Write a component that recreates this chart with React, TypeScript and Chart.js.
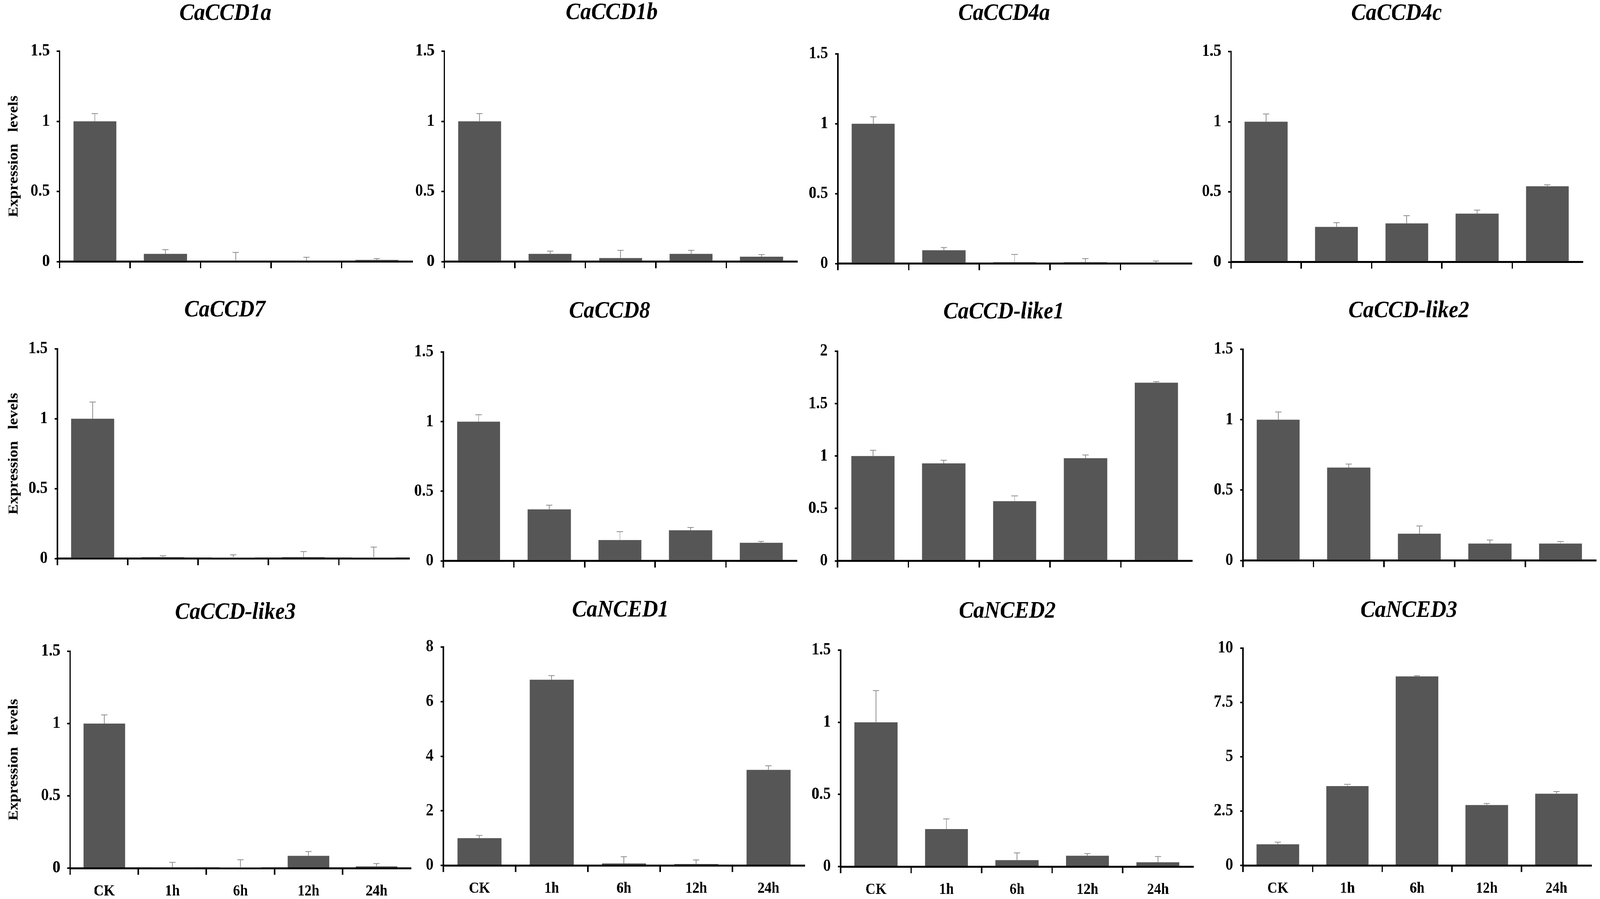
import React, { useEffect, useRef } from 'react';
import { Chart, registerables } from 'chart.js';

Chart.register(...registerables);

// ---------------- DATA ----------------
const timePoints = ['CK', '1h', '6h', '12h', '24h'];

const geneNames = [
  'CaCCD1a', 'CaCCD1b', 'CaCCD4a', 'CaCCD4c',
  'CaCCD7', 'CaCCD8', 'CaCCD-like1', 'CaCCD-like2',
  'CaCCD-like3', 'CaNCED1', 'CaNCED2', 'CaNCED3',
];

const ccd1aMean = [1.0, 0.055, 0.006, 0.006, 0.012];
const ccd1aErr = [0.055, 0.03, 0.06, 0.025, 0.01];
const ccd1bMean = [1.0, 0.055, 0.025, 0.055, 0.035];
const ccd1bErr = [0.055, 0.02, 0.055, 0.025, 0.015];
const ccd4aMean = [1.0, 0.095, 0.01, 0.01, 0.006];
const ccd4aErr = [0.05, 0.02, 0.055, 0.025, 0.012];
const ccd4cMean = [1.0, 0.25, 0.275, 0.345, 0.54];
const ccd4cErr = [0.055, 0.03, 0.055, 0.025, 0.01];
const ccd7Mean = [1.0, 0.01, 0.002, 0.01, 0.002];
const ccd7Err = [0.12, 0.01, 0.025, 0.04, 0.08];
const ccd8Mean = [1.0, 0.37, 0.15, 0.22, 0.13];
const ccd8Err = [0.05, 0.03, 0.06, 0.02, 0.01];
const ccdLike1Mean = [1.0, 0.93, 0.57, 0.98, 1.7];
const ccdLike1Err = [0.055, 0.03, 0.05, 0.03, 0.01];
const ccdLike2Mean = [1.0, 0.66, 0.19, 0.12, 0.12];
const ccdLike2Err = [0.055, 0.025, 0.055, 0.025, 0.015];
const ccdLike3Mean = [1.0, 0.005, 0.003, 0.085, 0.012];
const ccdLike3Err = [0.06, 0.035, 0.055, 0.03, 0.02];
const nced1Mean = [1.0, 6.8, 0.07, 0.05, 3.5];
const nced1Err = [0.1, 0.15, 0.25, 0.15, 0.15];
const nced2Mean = [1.0, 0.26, 0.045, 0.075, 0.03];
const nced2Err = [0.22, 0.07, 0.05, 0.015, 0.04];
const nced3Mean = [0.97, 3.65, 8.7, 2.78, 3.3];
const nced3Err = [0.1, 0.08, 0.03, 0.07, 0.1];

const yAxisMax = [1.5, 1.5, 1.5, 1.5, 1.5, 1.5, 2, 1.5, 1.5, 8, 1.5, 10];
const yAxisStep = [0.5, 0.5, 0.5, 0.5, 0.5, 0.5, 0.5, 0.5, 0.5, 2, 0.5, 2.5];
const yAxisTitle = 'Expression   levels';

const meanSeries = [
  ccd1aMean, ccd1bMean, ccd4aMean, ccd4cMean,
  ccd7Mean, ccd8Mean, ccdLike1Mean, ccdLike2Mean,
  ccdLike3Mean, nced1Mean, nced2Mean, nced3Mean,
];
const errSeries = [
  ccd1aErr, ccd1bErr, ccd4aErr, ccd4cErr,
  ccd7Err, ccd8Err, ccdLike1Err, ccdLike2Err,
  ccdLike3Err, nced1Err, nced2Err, nced3Err,
];

// ---------------- LAYOUT (design pixels, 4562 x 2301) ----------------
const DESIGN_W = 4562;
const DESIGN_H = 2301;
const rowTops = [0, 745, 1520];
const panelBoxes = [
  { l: 170, r: 1175, t: 131, b: 686, tx: 643, ty: 51, row: 0, col: 0 },
  { l: 1267, r: 2272, t: 131, b: 686, tx: 1744, ty: 49, row: 0, col: 1 },
  { l: 2389, r: 3397, t: 138, b: 691, tx: 2863, ty: 51, row: 0, col: 2 },
  { l: 3510, r: 4512, t: 132, b: 687, tx: 3982, ty: 51, row: 0, col: 3 },
  { l: 164, r: 1166, t: 893, b: 1446, tx: 641, ty: 810, row: 1, col: 0 },
  { l: 1264, r: 2271, t: 901, b: 1452, tx: 1738, ty: 813, row: 1, col: 1 },
  { l: 2388, r: 3398, t: 899, b: 1452, tx: 2862, ty: 815, row: 1, col: 2 },
  { l: 3544, r: 4550, t: 894, b: 1451, tx: 4017, ty: 812, row: 1, col: 3 },
  { l: 200, r: 1171, t: 1667, b: 2222, tx: 671, ty: 1584, row: 2, col: 0 },
  { l: 1264, r: 2294, t: 1656, b: 2215, tx: 1769, ty: 1578, row: 2, col: 1 },
  { l: 2397, r: 3402, t: 1664, b: 2218, tx: 2872, ty: 1581, row: 2, col: 2 },
  { l: 3544, r: 4537, t: 1659, b: 2215, tx: 4017, ty: 1579, row: 2, col: 3 },
];

const FONT = '"Liberation Serif", "Times New Roman", serif';
const BAR_COLOR = '#565656';
const ERR_COLOR = '#8c8c8c';

const errorBarPlugin = {
  id: 'errorBars',
  afterDatasetsDraw(chart: any, _args: any, opts: any) {
    const errs = opts.errors || [];
    const meta = chart.getDatasetMeta(0);
    const yScale = chart.scales.y;
    const values = chart.data.datasets[0].data as number[];
    const ctx = chart.ctx;
    ctx.save();
    ctx.strokeStyle = ERR_COLOR;
    ctx.lineWidth = 2;
    meta.data.forEach((bar: any, i: number) => {
      const v = values[i];
      const e = errs[i] || 0;
      const top = yScale.getPixelForValue(v);
      const end = yScale.getPixelForValue(v + e);
      ctx.beginPath();
      ctx.moveTo(bar.x, top);
      ctx.lineTo(bar.x, end);
      ctx.moveTo(bar.x - 9, end);
      ctx.lineTo(bar.x + 9, end);
      ctx.stroke();
    });
    ctx.restore();
  },
};

const panelTitlePlugin = {
  id: 'panelTitle',
  afterDraw(chart: any, _args: any, opts: any) {
    const ctx = chart.ctx;
    ctx.save();
    ctx.font = `italic bold 62px ${FONT}`;
    ctx.fillStyle = '#000';
    ctx.textAlign = 'center';
    ctx.textBaseline = 'alphabetic';
    ctx.fillText(opts.text, opts.x, opts.y);
    ctx.restore();
  },
};

function Panel({ idx }: { idx: number }) {
  const ref = useRef<HTMLCanvasElement>(null);
  const box = panelBoxes[idx];
  const T = rowTops[box.row];
  const firstCol = box.col === 0;
  const bottomRow = box.row === 2;
  const YW = firstCol ? box.l : 130;
  const L = box.l - YW;
  const XH = bottomRow ? 100 : 30;
  const PR = 10;
  const W = Math.min(box.r + PR, DESIGN_W) - L;
  const H = box.b + XH - T;

  useEffect(() => {
    if (!ref.current) return;
    const chart = new Chart(ref.current, {
      type: 'bar',
      data: {
        labels: timePoints,
        datasets: [
          {
            data: meanSeries[idx],
            backgroundColor: BAR_COLOR,
            borderWidth: 0,
            barPercentage: 0.61,
            categoryPercentage: 1,
          },
        ],
      },
      plugins: [errorBarPlugin, panelTitlePlugin],
      options: {
        animation: false,
        responsive: false,
        maintainAspectRatio: false,
        devicePixelRatio: 1,
        layout: { padding: { top: box.t - T, right: L + W - box.r, bottom: 0, left: 0 } },
        plugins: {
          legend: { display: false },
          tooltip: { enabled: false },
          title: { display: false },
          errorBars: { errors: errSeries[idx] },
          panelTitle: { text: geneNames[idx], x: box.tx - L, y: box.ty - T },
        } as any,
        scales: {
          x: {
            type: 'category',
            z: 1,
            afterFit: (s: any) => { s.height = XH; },
            border: { display: true, color: '#000', width: 5 },
            grid: {
              offset: true,
              drawOnChartArea: false,
              drawTicks: true,
              tickLength: 17,
              lineWidth: 4,
              color: (c: any) => (c.index === undefined ? 'rgba(0,0,0,0)' : '#000'),
            },
            ticks: {
              display: bottomRow,
              color: '#000',
              padding: 19,
              maxRotation: 0,
              autoSkip: false,
              font: { family: FONT, weight: 'bold', size: 40 },
            },
          },
          y: {
            type: 'linear',
            min: 0,
            max: yAxisMax[idx],
            afterFit: (s: any) => { s.width = YW; },
            border: { display: true, color: '#000', width: 4 },
            grid: {
              drawOnChartArea: false,
              drawTicks: true,
              tickLength: 8,
              lineWidth: 4,
              color: '#000',
            },
            ticks: {
              stepSize: yAxisStep[idx],
              color: '#000',
              padding: 20,
              font: { family: FONT, weight: 'bold', size: 44 },
              callback: (v: any) => String(v),
            },
            title: {
              display: firstCol,
              text: yAxisTitle,
              color: '#000',
              padding: { top: 16, bottom: 0 },
              font: { family: FONT, weight: 'bold', size: 40 },
            },
          },
        },
      } as any,
    });
    return () => chart.destroy();
  }, [idx]);

  return (
    <canvas
      ref={ref}
      width={W}
      height={H}
      style={{ position: 'absolute', left: L, top: T, width: W, height: H }}
    />
  );
}

export default function App() {
  const vw = typeof window !== 'undefined' && window.innerWidth > 0 ? window.innerWidth : DESIGN_W;
  const vh = typeof window !== 'undefined' && window.innerHeight > 0 ? window.innerHeight : DESIGN_H;
  const sx = vw / DESIGN_W;
  const sy = vh / DESIGN_H;

  useEffect(() => {
    document.body.style.margin = '0';
    document.body.style.overflow = 'hidden';
  }, []);

  return (
    <div
      style={{
        position: 'absolute',
        left: 0,
        top: 0,
        width: DESIGN_W,
        height: DESIGN_H,
        background: '#fff',
        transform: `scale(${sx}, ${sy})`,
        transformOrigin: '0 0',
      }}
    >
      {geneNames.map((_, i) => (
        <Panel key={i} idx={i} />
      ))}
    </div>
  );
}
